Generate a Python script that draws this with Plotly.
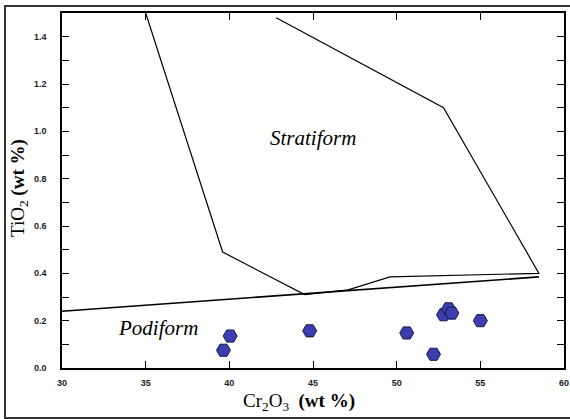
import plotly.graph_objects as go

# Stratiform field boundary (open at top)
strat_x = [35.0, 39.6, 44.5, 47.1, 49.6, 58.5, 52.8, 42.8]
strat_y = [1.50, 0.49, 0.31, 0.33, 0.385, 0.40, 1.10, 1.48]

# Podiform / stratiform dividing line
pod_x = [30.0, 58.5]
pod_y = [0.24, 0.385]

# Samples
sample_x = [39.65, 40.05, 44.8, 50.6, 52.2, 52.8, 53.1, 53.3, 55.0]
sample_y = [0.075, 0.135, 0.157, 0.148, 0.058, 0.225, 0.25, 0.232, 0.20]

x_ticks = [30, 35, 40, 45, 50, 55, 60]
y_ticks = [0.0, 0.2, 0.4, 0.6, 0.8, 1.0, 1.2, 1.4]

fig = go.Figure()
fig.add_trace(go.Scatter(x=strat_x, y=strat_y, mode="lines",
                         line=dict(color="black", width=1.2), showlegend=False,
                         hoverinfo="skip"))
fig.add_trace(go.Scatter(x=pod_x, y=pod_y, mode="lines",
                         line=dict(color="black", width=1.6), showlegend=False,
                         hoverinfo="skip"))
fig.add_trace(go.Scatter(x=sample_x, y=sample_y, mode="markers",
                         marker=dict(symbol="hexagon2", size=14, color="#3b3db0",
                                     line=dict(color="#1a1a40", width=1)),
                         showlegend=False))

serif = "Liberation Serif, Times New Roman, serif"

fig.add_annotation(x=45.0, y=0.97, text="<i>Stratiform</i>", showarrow=False,
                   font=dict(family=serif, size=21, color="black"))
fig.add_annotation(x=35.75, y=0.17, text="<i>Podiform</i>", showarrow=False,
                   font=dict(family=serif, size=21, color="black"))

# axis titles
fig.add_annotation(xref="paper", yref="paper", x=0.472, y=-0.096,
                   text="Cr<sub>2</sub>O<sub>3</sub>  <b>(wt %)</b>", showarrow=False,
                   xanchor="center", yanchor="middle",
                   font=dict(family=serif, size=19, color="black"))
fig.add_annotation(xref="paper", yref="paper", x=-0.0857, y=0.507,
                   text="TiO<sub>2</sub> <b>(wt %)</b>", showarrow=False, textangle=-90,
                   xanchor="center", yanchor="middle",
                   font=dict(family=serif, size=19, color="black"))

# outer frame
fig.add_shape(type="rect", xref="paper", yref="paper",
              x0=-0.1135, x1=1.05, y0=-0.141, y1=1.0197,
              line=dict(color="#333333", width=2), layer="below")

tickfont = dict(family="Liberation Sans, Arial", size=9, color="#222222", weight="bold")

fig.update_xaxes(range=[30, 60], tickvals=x_ticks, ticks="inside", ticklen=7,
                 tickwidth=1.2, tickcolor="black", mirror="ticks", showline=True,
                 linecolor="black", linewidth=1.5, showgrid=False, zeroline=False,
                 automargin=False, tickfont=tickfont, ticklabelstandoff=5)
fig.update_yaxes(range=[0, 1.5], tickvals=y_ticks, tickformat=".1f", ticks="inside",
                 ticklen=7, tickwidth=1.2, tickcolor="black", mirror="ticks",
                 showline=True, linecolor="black", linewidth=1.5, showgrid=False,
                 zeroline=False, automargin=False,
                 minor=dict(dtick=0.1, ticks="inside", ticklen=7, tickcolor="black"),
                 tickfont=tickfont, ticklabelstandoff=12)

fig.update_layout(width=570, height=419, margin=dict(l=62, r=6, t=13, b=51),
                  paper_bgcolor="white", plot_bgcolor="white")

fig.write_html("out.html", config={"displayModeBar": False},
               post_script="document.body.style.margin='0';document.body.style.padding='0';")
